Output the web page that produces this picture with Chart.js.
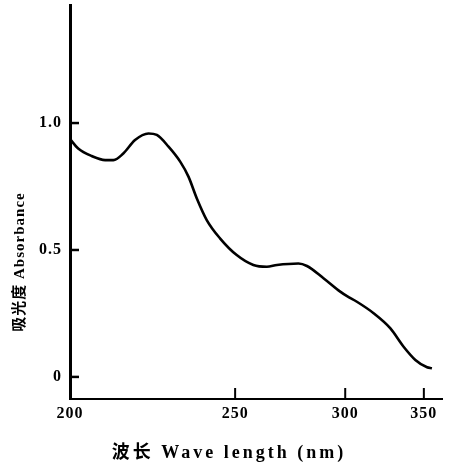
<!DOCTYPE html>
<html>
<head>
<meta charset="utf-8">
<script src="https://cdn.jsdelivr.net/npm/chart.js@4"></script>
<style>
  body { margin: 0; background: #fff; }
</style>
</head>
<body>
<canvas id="spectrumChart" width="451" height="468"></canvas>
<script>
// values
const wavelengths = [200, 202, 205.4, 208.9, 211.1, 213.8, 217.1, 221, 223.5, 227.1, 230.8, 233.5, 236.3, 239.7, 244.4, 250.6, 257.1, 262.6, 266.9, 276.5, 280.5, 288.6, 297.3, 301, 306.5, 316.3, 326.7, 335.6, 343.8, 352.4, 356.1];
const absorbance = [0.937, 0.900, 0.870, 0.854, 0.854, 0.880, 0.933, 0.959, 0.953, 0.907, 0.848, 0.789, 0.703, 0.618, 0.546, 0.480, 0.441, 0.434, 0.441, 0.447, 0.437, 0.389, 0.336, 0.318, 0.296, 0.251, 0.192, 0.119, 0.067, 0.038, 0.034];
const wavelengthTicks = [200, 250, 300, 350];
const absorbanceTicks = [0, 0.5, 1.0];
const xTitle = '波长 Wave length (nm)';
const yTitleText = '吸光度 Absorbance';

const serif = "'Liberation Serif', 'Noto Sans CJK SC', serif";

// the original x axis is spaced in 1/wavelength, so plot 1000/nm on a reversed linear axis
const toAxis = w => 1000 / w;

const spectrumData = wavelengths.map((w, i) => ({ x: toAxis(w), y: absorbance[i] }));

// inner tick marks, like the printed figure
const innerTicks = {
    id: 'innerTicks',
    afterDraw(chart) {
        const { ctx, chartArea } = chart;
        const x = chart.scales.x;
        const y = chart.scales.y;
        ctx.save();
        ctx.strokeStyle = '#000';
        ctx.lineWidth = 2.5;
        absorbanceTicks.forEach(v => {
            const py = y.getPixelForValue(v);
            ctx.beginPath();
            ctx.moveTo(chartArea.left, py);
            ctx.lineTo(chartArea.left + 9, py);
            ctx.stroke();
        });
        ctx.lineWidth = 2;
        wavelengthTicks.slice(1).forEach(w => {
            const px = x.getPixelForValue(toAxis(w));
            ctx.beginPath();
            ctx.moveTo(px, chartArea.bottom);
            ctx.lineTo(px, chartArea.bottom - 11);
            ctx.stroke();
        });
        ctx.restore();
    }
};

// axis titles: placed like the print (x title is left of the plot centre, y title below it)
const axisTitles = {
    id: 'axisTitles',
    afterDraw(chart) {
        const ctx = chart.ctx;
        ctx.save();
        ctx.fillStyle = '#000';
        ctx.textAlign = 'center';
        ctx.textBaseline = 'middle';

        ctx.letterSpacing = '3px';
        ctx.font = 'bold 18px ' + serif;
        ctx.fillText(xTitle, 229, 453);

        ctx.letterSpacing = '1px';
        ctx.font = 'bold 15px ' + serif;
        ctx.translate(20, 262);
        ctx.rotate(-Math.PI / 2);
        ctx.fillText(yTitleText, 0, 0);
        ctx.restore();
    }
};

const spacedText = {
    id: 'spacedText',
    beforeDraw(chart) {
        chart.ctx.letterSpacing = '1px';
    }
};

new Chart(document.getElementById('spectrumChart'), {
    type: 'line',
    data: {
        datasets: [{
            data: spectrumData,
            borderColor: '#000',
            borderWidth: 2.6,
            pointRadius: 0,
            fill: false,
            cubicInterpolationMode: 'monotone'
        }]
    },
    options: {
        responsive: false,
        animation: false,
        events: [],
        layout: { padding: { top: 5, right: 9, left: 0, bottom: 0 } },
        plugins: {
            legend: { display: false },
            tooltip: { enabled: false },
            title: { display: false }
        },
        scales: {
            x: {
                type: 'linear',
                reverse: true,
                min: toAxis(364),
                max: toAxis(200),
                grid: { display: false, drawTicks: false },
                border: { display: true, color: '#000', width: 2 },
                afterBuildTicks: s => { s.ticks = wavelengthTicks.map(w => ({ value: toAxis(w) })); },
                ticks: {
                    color: '#000',
                    padding: 5,
                    maxRotation: 0,
                    autoSkip: false,
                    font: { family: serif, size: 16, weight: 'bold' },
                    callback: v => String(Math.round(1000 / v))
                },
                afterFit: s => {
                    s.height = 69;
                    s.paddingLeft = 0;
                    s.paddingRight = 0;
                }
            },
            y: {
                min: -0.087,
                max: 1.465,
                grid: { display: false, drawTicks: false },
                border: { display: true, color: '#000', width: 3 },
                afterBuildTicks: s => { s.ticks = absorbanceTicks.map(v => ({ value: v })); },
                ticks: {
                    color: '#000',
                    padding: 8,
                    font: { family: serif, size: 16, weight: 'bold' },
                    callback: v => v === 0 ? '0' : v.toFixed(1)
                },
                afterFit: s => {
                    s.width = 70;
                    s.paddingTop = 0;
                    s.paddingBottom = 0;
                }
            }
        }
    },
    plugins: [spacedText, innerTicks, axisTitles]
});
</script>
</body>
</html>
